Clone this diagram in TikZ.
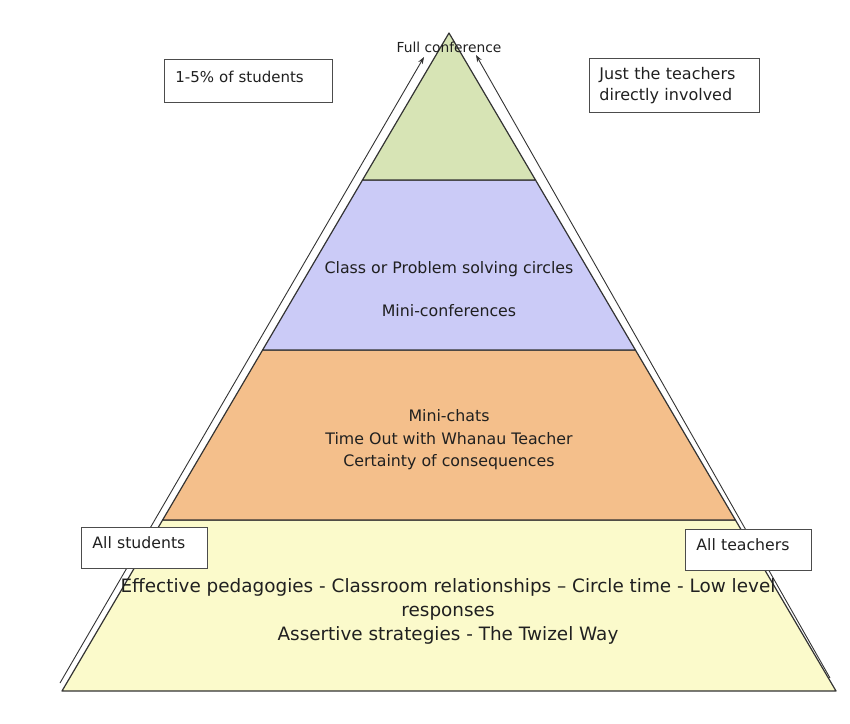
\documentclass[tikz,border=0pt]{standalone}
\usepackage{fontspec}
\setmainfont{DejaVu Sans}
\usetikzlibrary{arrows.meta}
\definecolor{topgreen}{HTML}{D7E4B5}
\definecolor{midpurple}{HTML}{CBCBF7}
\definecolor{midorange}{HTML}{F4BF8B}
\definecolor{baseyellow}{HTML}{FBFACB}
\definecolor{ink}{HTML}{202020}
\tikzset{
  layer/.style={draw=black!80, line width=1.2pt, line join=round},
  side/.style={draw=black!80, line width=0.9pt, -{Stealth[length=7pt,width=5pt]}},
  tag/.style={draw=black!70, fill=white, line width=0.9pt, anchor=north west,
    align=left, inner xsep=11pt, inner ysep=0pt, text=ink,
    font=\fontsize{15.7}{21}\selectfont},
  lbl/.style={text=ink, align=center, inner sep=0pt}
}

\begin{document}
\begin{tikzpicture}[x=1pt,y=-1pt]
\useasboundingbox (0,0) rectangle (850,723);

% corners of the pyramid and its bands
\coordinate (apex) at (449,33);
\coordinate (bl) at (62,691);
\coordinate (br) at (836,691);
\coordinate (g1) at (362.5,180);
\coordinate (g2) at (535.5,180);
\coordinate (p1) at (262.6,350);
\coordinate (p2) at (635.4,350);
\coordinate (o1) at (162.6,520);
\coordinate (o2) at (735.4,520);

\draw[layer, fill=baseyellow] (o1) -- (o2) -- (br) -- (bl) -- cycle;
\draw[layer, fill=midorange] (p1) -- (p2) -- (o2) -- (o1) -- cycle;
\draw[layer, fill=midpurple] (g1) -- (g2) -- (p2) -- (p1) -- cycle;
\draw[layer, fill=topgreen] (apex) -- (g2) -- (g1) -- cycle;

% arrows along the sides
\coordinate (sl) at (60,683);
\coordinate (el) at (424,57);
\coordinate (sr) at (830,678);
\coordinate (er) at (476,55);
\draw[side] (sl) -- (el);
\draw[side] (sr) -- (er);

% texts in the bands
\node[lbl, font=\fontsize{13.8}{15}\selectfont] (full) at (449,47) {Full conference};
\node[lbl, font=\fontsize{15.8}{22.5}\selectfont] (circles) at (449,269) {Class or Problem solving circles};
\node[lbl, font=\fontsize{15.8}{22.5}\selectfont] (minic) at (449,311) {Mini-conferences};
\node[lbl, font=\fontsize{15.8}{22.5}\selectfont] (chats) at (449,440) {Mini-chats\\Time Out with Whanau Teacher\\Certainty of consequences};
\node[lbl, font=\fontsize{18.4}{24}\selectfont] (base) at (448,611) {Effective pedagogies - Classroom relationships – Circle time - Low level\\responses\\Assertive strategies - The Twizel Way};

% side boxes
\node[tag, text width=146pt, text height=23pt, text depth=20pt, font=\fontsize{15}{21}\selectfont] (few) at (164,59) {1-5\% of students};
\node[tag, text width=150pt, text height=21pt, text depth=33pt, inner xsep=10pt, font=\fontsize{16}{21}\selectfont] (just) at (589,58) {Just the teachers\\directly involved};
\node[tag, text width=104pt, text height=21pt, text depth=20pt] (alls) at (81,527) {All students};
\node[tag, text width=104pt, text height=21pt, text depth=20pt] (allt) at (685,529) {All teachers};

\end{tikzpicture}
\end{document}
